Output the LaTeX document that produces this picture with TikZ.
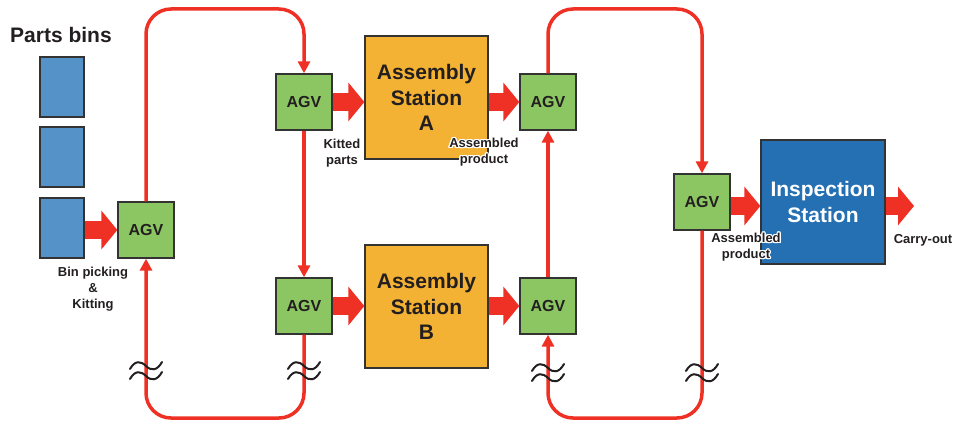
\documentclass[tikz,border=0pt]{standalone}
\usepackage{fontspec}
\setmainfont{Liberation Sans}
\usepackage[copies]{contour}
\contourlength{1.2pt}
\usetikzlibrary{arrows.meta,calc}
\definecolor{redc}{HTML}{EE3124}
\definecolor{agvg}{HTML}{8CC663}
\definecolor{orng}{HTML}{F3B234}
\definecolor{binb}{HTML}{5592C8}
\definecolor{inspb}{HTML}{2470B3}
\definecolor{bord}{HTML}{333333}
\definecolor{txt}{HTML}{231F20}
\tikzset{
  boxbase/.style={draw=bord, line width=1.3pt, inner sep=0pt, align=center, text=txt},
  agv/.style={boxbase, fill=agvg, minimum size=56pt, font=\bfseries\fontsize{16}{19}\selectfont},
  bin/.style={boxbase, fill=binb, minimum width=44pt, minimum height=60pt},
  station/.style={boxbase, fill=orng, minimum size=123pt, font=\bfseries\fontsize{21}{25.5}\selectfont},
  insp/.style={boxbase, fill=inspb, minimum size=124pt, text=white, font=\bfseries\fontsize{21}{26}\selectfont},
  lbl/.style={align=center, text=txt, inner sep=0pt, font=\bfseries\fontsize{13}{16}\selectfont},
  fatarrow/.style={draw=redc, line width=18pt, -{Triangle[length=16pt,width=38pt]}},
  loopline/.style={draw=redc, line width=3.5pt, rounded corners=25pt, -{Triangle[length=12pt,width=12pt]}},
  wave/.style={draw=txt, line width=2pt, line cap=round},
  breakmark/.pic={
    \draw[wave] (-16,-2) .. controls (-11,-11) and (-5,-10) .. (0,-5) .. controls (5,0) and (11,0) .. (16,-9);
    \draw[wave] (-16,8) .. controls (-11,-1) and (-5,0) .. (0,5) .. controls (5,10) and (11,10) .. (16,1);
  }
}
\begin{document}
\begin{tikzpicture}[x=1pt,y=-1pt]
\useasboundingbox (0,0) rectangle (953,425);
\coordinate (top) at (0,9);
\coordinate (bot) at (0,418);

% title and bins
\node[font=\bfseries\fontsize{21}{25}\selectfont, text=txt, inner sep=0pt] (title) at (61,35) {Parts bins};
\node[bin] (bin1) at (62,87) {};
\node[bin] (bin2) at (62,157) {};
\node[bin] (bin3) at (62,228) {};

% AGVs
\node[agv] (agv1) at (146,230) {AGV};
\node[agv] (agv2) at (304,102) {AGV};
\node[agv] (agv3) at (304,306) {AGV};
\node[agv] (agv4) at (548,102) {AGV};
\node[agv] (agv5) at (548,306) {AGV};
\node[agv] (agv6) at (702,202) {AGV};

% stations
\node[station] (stA) at (426.5,97.5) {Assembly\\Station\\A};
\node[station] (stB) at (426.5,306.5) {Assembly\\Station\\B};
\node[insp] (ins) at (823,202) {Inspection\\Station};

% loops
\draw[loopline] (agv1.north) |- (agv2.north |- top) -- (agv2.north);
\draw[loopline] (agv2.south) -- (agv3.north);
\draw[loopline] (agv3.south) |- (agv1.south |- bot) -- (agv1.south);
\draw[loopline] (agv4.north) |- (agv6.north |- top) -- (agv6.north);
\draw[loopline] (agv5.north) -- (agv4.south);
\draw[loopline] (agv6.south) |- (agv5.south |- bot) -- (agv5.south);

% break marks
\pic at (146,371) {breakmark};
\pic at (304,371) {breakmark};
\pic at (548,373) {breakmark};
\pic at (702,373) {breakmark};

% fat arrows
\draw[fatarrow] (bin3.east |- agv1.west) -- (agv1.west);
\draw[fatarrow] (agv2.east) -- (agv2.east -| stA.west);
\draw[fatarrow] (stA.east |- agv4.west) -- (agv4.west);
\draw[fatarrow] (agv3.east) -- (agv3.east -| stB.west);
\draw[fatarrow] (stB.east |- agv5.west) -- (agv5.west);
\draw[fatarrow] ($(agv6.east)+(0,4)$) -- ($(agv6.east -| ins.west)+(0,4)$);
\coordinate (out) at (914,206);
\draw[fatarrow] (ins.east |- out) -- (out);

% labels
\node[lbl] (binlbl) at (93,289) {Bin picking\\\&\\Kitting};
\node[lbl] (kit) at (342,153) {Kitted\\parts};
\node[lbl] (asmA) at (484,153) {\contour{white}{Assembled}\\\contour{white}{product}};
\node[lbl] (asm6) at (746,248) {\contour{white}{Assembled}\\\contour{white}{product}};
\node[lbl] (carry) at (923,240) {Carry-out};
\end{tikzpicture}
\end{document}
